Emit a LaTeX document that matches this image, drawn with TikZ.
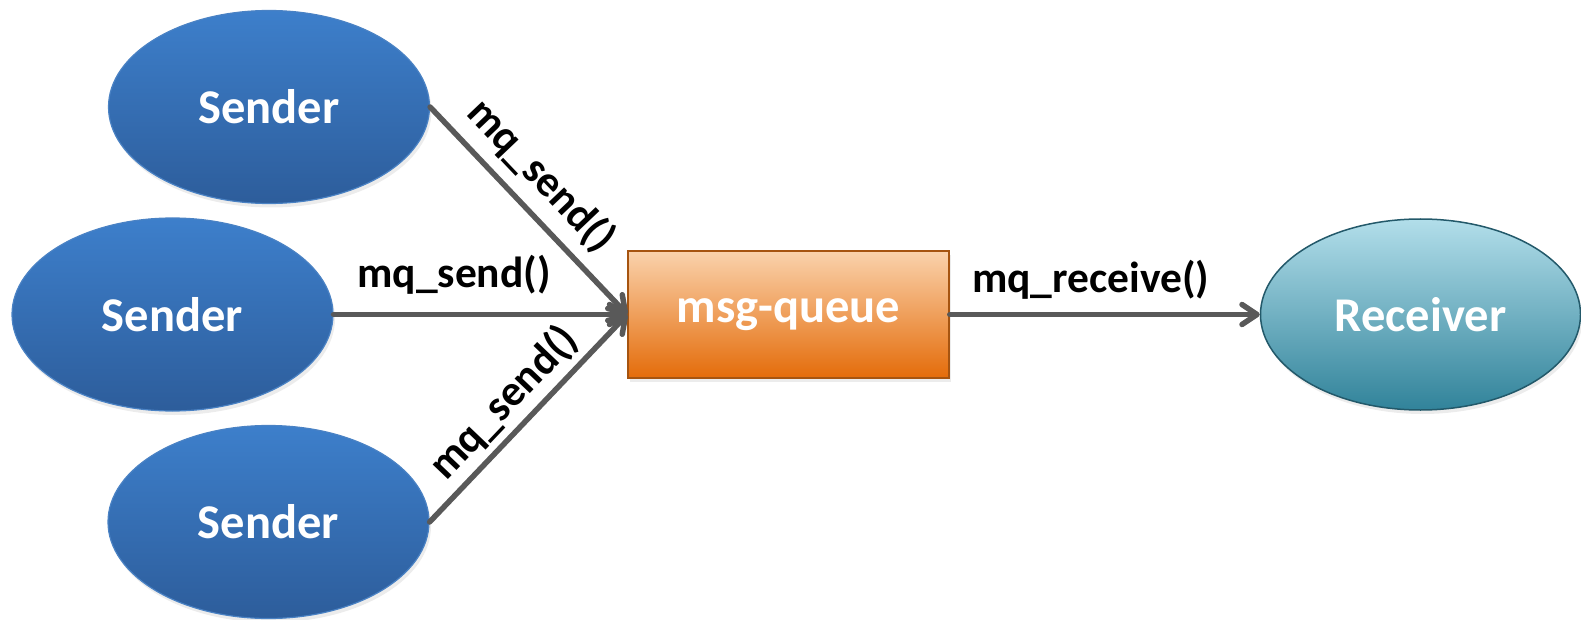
\documentclass[tikz,border=0pt]{standalone}
\usepackage{fontspec}
\setmainfont{Carlito}
\usetikzlibrary{arrows.meta,shapes.geometric,shadows}

\definecolor{sendtop}{HTML}{3D7FCB}
\definecolor{sendbot}{HTML}{2D5D9B}
\definecolor{sendline}{HTML}{4A82C4}
\definecolor{recvtop}{HTML}{B2DEEA}
\definecolor{recvbot}{HTML}{31839A}
\definecolor{recvline}{HTML}{23596A}
\definecolor{boxtop}{HTML}{FAD2AC}
\definecolor{boxbot}{HTML}{E46C0A}
\definecolor{boxline}{HTML}{A65410}
\definecolor{flowgray}{HTML}{595959}

\begin{document}
\begin{tikzpicture}[x=1pt,y=-1pt,
  softshadow/.style={drop shadow={opacity=0.15, shadow xshift=2pt, shadow yshift=-4pt}},
  sender/.style={ellipse, minimum width=321pt, minimum height=193pt, inner sep=0pt,
    top color=sendtop, bottom color=sendbot, draw=sendline, line width=1.2pt,
    text=white, font=\fontsize{48.5}{52}\selectfont\bfseries, softshadow},
  receiver/.style={ellipse, minimum width=320pt, minimum height=191pt, inner sep=0pt,
    top color=recvtop, bottom color=recvbot, draw=recvline, line width=1.5pt,
    text=white, font=\fontsize{48.5}{52}\selectfont\bfseries, softshadow},
  queuebox/.style={rectangle, minimum width=321pt, minimum height=127pt, inner sep=0pt,
    top color=boxtop, bottom color=boxbot, draw=boxline, line width=1.5pt,
    text=white, font=\fontsize{48.5}{52}\selectfont\bfseries, softshadow},
  flow/.style={draw=flowgray, line width=5.5pt, line cap=round,
    -{Straight Barb[length=15pt, width=20pt, line width=5.5pt, round]}},
  lbl/.style={font=\fontsize{43.5}{47}\selectfont\bfseries, text=black, inner sep=2pt}
]
\useasboundingbox (0,0) rectangle (1581,620);

\node[sender] (s1) at (269,107) {Sender};
\node[sender] (s2) at (172.5,314.5) {Sender};
\node[sender] (s3) at (268.5,522) {Sender};
\node[queuebox] (q) at (788.5,314.5) {msg-queue};
\node[receiver] (r) at (1420.5,314.5) {Receiver};

\draw[flow] (s1.east) -- (q.west)
  node[lbl, sloped, above, pos=0.44, yshift=9pt] {mq\_send()};
\draw[flow] (s2.east) -- (q.west)
  node[lbl, above, pos=0.41, yshift=15pt] {mq\_send()};
\draw[flow] (s3.east) -- (q.west)
  node[lbl, sloped, above, pos=0.48, yshift=4pt] {mq\_send()};
\draw[flow] (q.east) -- (r.west)
  node[lbl, above, pos=0.455, yshift=10pt] {mq\_receive()};
\end{tikzpicture}
\end{document}
